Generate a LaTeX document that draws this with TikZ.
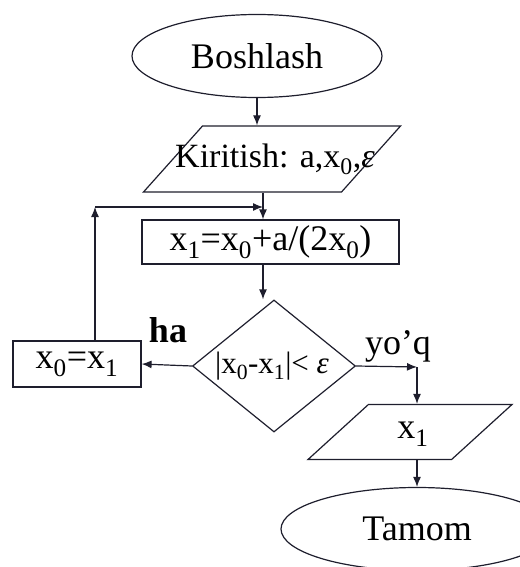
\documentclass[tikz,border=0pt]{standalone}
\usepackage{fontspec}
\setmainfont{Liberation Serif}
\usetikzlibrary{shapes.geometric, arrows.meta}
\definecolor{ink}{RGB}{30,30,45}

\begin{document}
\begin{tikzpicture}[
  x=1pt, y=-1pt,
  font=\fontsize{36}{40}\selectfont,
  line width=1.2pt,
  term/.style={ellipse, draw=ink, minimum width=250, minimum height=83, inner sep=0pt},
  io/.style={trapezium, draw=ink, trapezium stretches=true, inner sep=2pt},
  proc/.style={rectangle, draw=ink, inner sep=0pt},
  cond/.style={diamond, draw=ink, aspect=1.23, minimum width=163, minimum height=132, inner sep=0pt},
  flow/.style={draw=ink, -{Latex[length=10pt,width=8pt]}}
]
\useasboundingbox (0,0) rectangle (519,567);

\node[term] (start) at (257,56) {Boshlash};
\node[io, trapezium left angle=67, trapezium right angle=113, minimum width=257, minimum height=66] (input) at (272,159) {};
\node[font=\fontsize{34}{38}\selectfont] (inputtext) at (275,159) {Kiritish: a,x\textsubscript{0},\textit{ε}};
\node[proc, minimum width=257, minimum height=44] (calc) at (270.5,242) {x\textsubscript{1}=x\textsubscript{0}+a/(2x\textsubscript{0})};
\node[cond] (dec) at (274,366) {};
\node[font=\fontsize{31}{35}\selectfont] (dectext) at (272,366) {|x\textsubscript{0}-x\textsubscript{1}|< \textit{ε}};
\node[proc, minimum width=128, minimum height=46] (upd) at (77,364) {x\textsubscript{0}=x\textsubscript{1}};
\node[io, trapezium left angle=54, trapezium right angle=126, minimum width=204, minimum height=55] (output) at (410,432) {};
\node (outputtext) at (413,434) {x\textsubscript{1}};
\node[term, minimum width=272] (stop) at (417,529) {Tamom};

\node (yes) at (168,330) {\textbf{ha}};
\node (no) at (398,346) {yo'q};

\coordinate (join) at (263,207);
\coordinate (loop) at (95,207);
\coordinate (turn) at (417,367);

\draw[flow] (start.south) -- (start.south |- input.north);
\draw[flow] (join |- input.south) -- (join |- calc.north);
\draw[flow] (join |- calc.south) -- (join |- dec.north);
\draw[flow] (dec.west) -- (upd.east);
\draw[flow] (loop |- upd.north) -- (loop);
\draw[flow] (loop) -- (join);
\draw[flow] (dec.east) -- (turn);
\draw[flow] (turn) -- (turn |- output.north);
\draw[flow] (turn |- output.south) -- (turn |- stop.north);
\end{tikzpicture}
\end{document}
